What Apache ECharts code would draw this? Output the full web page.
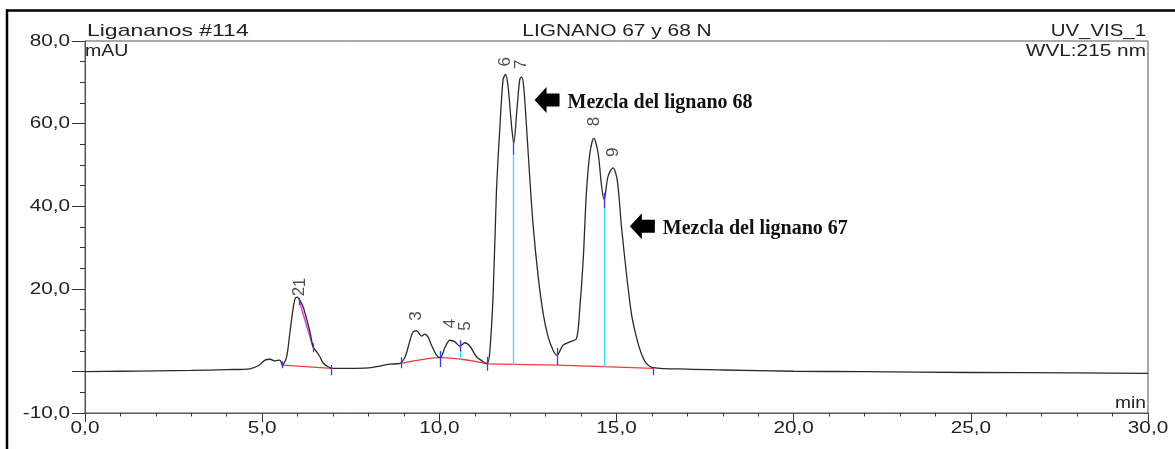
<!DOCTYPE html>
<html>
<head>
<meta charset="utf-8">
<script src="https://cdn.jsdelivr.net/npm/echarts@6/dist/echarts.min.js"></script>
<style>
  html, body { margin: 0; padding: 0; background: #fff; }
  #chart { width: 1175px; height: 449px; }
</style>
</head>
<body>
<div id="chart"></div>
<script>
// Chromatogram trace: retention time (min) and UV response (mAU)
const timeMin = [
  0.0, 1.0, 2.0, 3.0, 4.0, 4.65, 4.9, 5.08, 5.22, 5.36, 5.5, 5.57,
  5.69, 5.78, 5.88, 5.94, 5.99, 6.06, 6.16, 6.25, 6.35, 6.44, 6.54, 6.63, 6.72, 6.86, 7.0,
  7.5, 8.0, 8.23, 8.6, 8.89, 9.0, 9.07, 9.17, 9.26, 9.36, 9.45, 9.5, 9.59, 9.68, 9.78, 9.92, 10.03,
  10.16, 10.3, 10.44, 10.58, 10.72, 10.86, 11.05, 11.24, 11.35,
  11.42, 11.52, 11.61, 11.71, 11.8, 11.87, 11.94, 12.04, 12.1, 12.19, 12.27, 12.32, 12.38,
  12.46, 12.55, 12.65, 12.79, 12.93, 13.07, 13.21, 13.32, 13.49, 13.68, 13.87,
  13.96, 14.06, 14.15, 14.25, 14.36, 14.48, 14.58, 14.65, 14.76, 14.9, 15.02, 15.14,
  15.28, 15.42, 15.56, 15.7, 15.84, 16.03, 17.0, 18.0, 20.0, 22.0, 25.0, 28.0, 30.0
];
const signalMAU = [
  0.0, 0.1, 0.2, 0.3, 0.5, 0.7, 1.5, 2.8, 3.0, 2.6, 2.8, 1.6,
  3.6, 9.3, 15.7, 17.9, 18.0, 17.3, 15.6, 12.9, 9.6, 5.9, 4.8, 3.6, 2.1, 1.2, 0.8,
  0.8, 0.9, 1.2, 1.8, 2.0, 3.0, 4.4, 7.5, 9.6, 9.9, 9.0, 8.6, 9.1, 8.4, 6.4, 4.0, 3.4,
  5.9, 7.6, 7.2, 6.2, 7.0, 6.2, 3.6, 2.4, 2.0,
  4.4, 19.0, 43.2, 59.3, 70.7, 71.9, 69.0, 59.3, 55.3, 63.4, 70.7, 71.3, 69.0,
  59.3, 47.2, 35.1, 23.0, 14.1, 8.4, 5.2, 4.0, 6.4, 7.2, 8.0,
  14.9, 27.0, 43.2, 52.9, 56.5, 52.9, 44.8, 41.6, 47.2, 49.3, 46.4, 35.1,
  23.8, 14.1, 8.4, 4.4, 2.0, 1.0, 0.6, 0.4, 0.1, 0.0, -0.2, -0.3, -0.4
];

// Peak numbering at each apex
const peakIds = ['1', '2', '3', '4', '5', '6', '7', '8', '9'];
const peakTimes = [5.99, 6.06, 9.36, 10.30, 10.72, 11.87, 12.32, 14.36, 14.90];
const peakHeights = [18.0, 17.3, 9.9, 7.6, 7.0, 71.9, 71.3, 56.5, 49.3];
const peakLabelGap = [10, 4, 10, 12, 12, 8, 8, 12, 11];
// sideways nudge (px) so the labels of peaks 1 and 2 stack in one column
const peakLabelShift = [3, 0, 0, 0, 0, 0, 0, 0, 0];

// Integration baselines (time, mAU)
const baselineTimes = [
  [5.57, 6.96],
  [8.92, 9.5, 10.03, 10.6, 11.0, 11.35],
  [11.35, 13.32, 14.65, 16.03]
];
const baselineValues = [
  [1.6, 0.8],
  [2.0, 2.9, 3.4, 3.0, 2.5, 1.9],
  [1.9, 1.6, 1.2, 0.8]
];

// Peak start/end/split markers: time, upper and lower end (mAU)
const markTimes = [5.57, 6.06, 6.44, 6.96, 8.92, 10.03, 10.58, 11.35, 12.10, 13.32, 14.65, 16.03];
const markTop = [2.5, 17.8, 6.9, 1.6, 3.5, 5.0, 7.6, 3.6, 56.1, 5.7, 43.3, 0.85];
const markBottom = [0.85, 16.1, 4.7, -0.85, 0.85, 1.1, 4.8, 0.2, 52.5, 1.6, 39.6, -0.85];

// Perpendicular drops between unresolved peaks
const dropTimes = [10.58, 12.10, 14.65];
const dropTop = [4.8, 52.5, 39.6];
const dropBottom = [2.9, 1.6, 1.2];

// Tangent skim under peak 2
const skimTimes = [6.06, 6.44];
const skimValues = [16.7, 5.9];

// Axis ticks and their labels
const xLabelValues = [0, 5, 10, 15, 20, 25, 30];
const yLabelValues = [-10, 20, 40, 60, 80];
const yMajorTicks = [-10, 0, 20, 40, 60, 80];

// Annotations
const notes = [
  { text: 'Mezcla del lignano 68', time: 13.04, mAU: 65.7 },
  { text: 'Mezcla del lignano 67', time: 15.73, mAU: 35.2 }
];

const SANS = '"Liberation Sans", Arial, sans-serif';
const SERIF = '"Liberation Serif", "Times New Roman", serif';
const INK = '#222';
const AXIS = '#555';
const WIDE = 1.22; // the instrument software draws its lettering horizontally stretched
const comma = v => v.toFixed(1).replace('.', ',');

const chart = echarts.init(document.getElementById('chart'), null, { renderer: 'canvas' });

const trace = timeMin.map((t, i) => [t, signalMAU[i]]);

const baselineSeries = baselineTimes.map((ts, k) => ({
  type: 'line',
  data: ts.map((t, i) => [t, baselineValues[k][i]]),
  smooth: k === 1 ? 0.4 : false,
  symbol: 'none',
  lineStyle: { color: '#f03c3c', width: 1.3 },
  z: 2,
  silent: true
}));

const segs = (ts, a, b) => ts.map((t, i) => ({ coords: [[t, a[i]], [t, b[i]]] }));

const option = {
  animation: false,
  backgroundColor: '#fff',
  grid: {
    left: 85, right: 27, top: 41, bottom: 36,
    show: true, borderColor: AXIS, borderWidth: 1
  },
  xAxis: {
    type: 'value', min: 0, max: 30, interval: 5,
    axisLine: { onZero: false, lineStyle: { color: AXIS, width: 1 } },
    axisTick: { length: 9, lineStyle: { color: '#333' } },
    minorTick: { show: true, splitNumber: 5, length: 3.5, lineStyle: { color: '#333' } },
    splitLine: { show: false },
    minorSplitLine: { show: false },
    axisLabel: { show: false }
  },
  yAxis: [
    {
      type: 'value', min: -10, max: 80, interval: 5,
      axisLine: { show: true, onZero: false, lineStyle: { color: AXIS, width: 1 } },
      axisTick: { length: 5, lineStyle: { color: '#333' } },
      axisLabel: { show: false },
      splitLine: { show: false }
    },
    {
      type: 'value', min: -10, max: 80, interval: 5, position: 'left',
      axisLine: { show: false, onZero: false },
      axisTick: { show: true, customValues: yMajorTicks, length: 13, lineStyle: { color: '#333' } },
      axisLabel: { show: false },
      splitLine: { show: false }
    }
  ],
  series: [
    ...baselineSeries,
    {
      type: 'lines', coordinateSystem: 'cartesian2d', silent: true, z: 3,
      data: segs(dropTimes, dropTop, dropBottom),
      lineStyle: { color: '#2ee6f2', width: 1.3, opacity: 1 }
    },
    {
      type: 'line', data: skimTimes.map((t, i) => [t, skimValues[i]]),
      symbol: 'none', lineStyle: { color: '#e040e0', width: 1.6 }, z: 3, silent: true
    },
    {
      type: 'line', name: 'UV_VIS_1', data: trace,
      smooth: 0.3, symbol: 'none', z: 4,
      lineStyle: { color: '#2a2a2a', width: 1.3 },
      markPoint: {
        silent: true,
        symbol: 'path://M0,13 L12,0 L12,6.5 L25,6.5 L25,19.5 L12,19.5 L12,26 Z',
        symbolSize: [25, 26],
        itemStyle: { color: '#000' },
        label: {
          show: true, position: 'right', distance: 8, offset: [0, 3],
          fontFamily: SERIF, fontWeight: 'bold', fontSize: 20, color: '#111'
        },
        data: notes.map(n => ({ coord: [n.time, n.mAU], value: n.text, label: { formatter: n.text } }))
      }
    },
    {
      type: 'lines', coordinateSystem: 'cartesian2d', silent: true, z: 5,
      data: segs(markTimes, markTop, markBottom),
      lineStyle: { color: '#3b3bff', width: 1.3, opacity: 1 }
    },
    {
      type: 'scatter', symbolSize: 0, silent: true, z: 6,
      data: peakIds.map((id, i) => ({
        value: [peakTimes[i], peakHeights[i]],
        name: id,
        // labels are turned a quarter left, so the second offset component moves them sideways
        label: { distance: peakLabelGap[i], offset: [0, peakLabelShift[i]] }
      })),
      label: {
        show: true, position: 'top', rotate: 90, align: 'left', verticalAlign: 'middle',
        formatter: p => p.name, fontFamily: SANS, fontSize: 17, color: INK
      }
    }
  ]
};

chart.setOption(option);

// Stretched lettering: frame, header, axis tick labels placed through the axis scales
const stretched = (text, x, y, size, align, scaleX) => ({
  type: 'text', x, y, scaleX: scaleX || WIDE, z: 10,
  style: { text, font: size + 'px ' + SANS, fill: INK, align, verticalAlign: 'middle' }
});

const xLeft = chart.convertToPixel({ xAxisIndex: 0 }, 0);
const yBottom = chart.convertToPixel({ yAxisIndex: 0 }, -10);

const graphics = [
  { type: 'line', shape: { x1: 6, y1: 10.5, x2: 1175, y2: 10.5 }, style: { stroke: '#000', lineWidth: 2.5 } },
  { type: 'line', shape: { x1: 7, y1: 9.5, x2: 7, y2: 449 }, style: { stroke: '#000', lineWidth: 2.5 } },
  stretched('Ligananos #114', 87, 31, 17, 'left', 1.35),
  stretched('LIGNANO 67 y 68 N', 617, 31, 17, 'center', 1.23),
  stretched('UV_VIS_1', 1146, 31, 17, 'right', 1.2),
  stretched('mAU', 85, 51.5, 16, 'left', 1.22),
  stretched('WVL:215 nm', 1146, 51.5, 16, 'right', 1.3),
  stretched('min', 1146, 404, 16, 'right', 1.2),
  ...yLabelValues.map(v =>
    stretched(comma(v), xLeft - 15, chart.convertToPixel({ yAxisIndex: 0 }, v), 17, 'right')),
  ...xLabelValues.map(v =>
    stretched(comma(v), chart.convertToPixel({ xAxisIndex: 0 }, v), yBottom + 15, 17, 'center'))
];

chart.setOption({ graphic: graphics });
</script>
</body>
</html>
